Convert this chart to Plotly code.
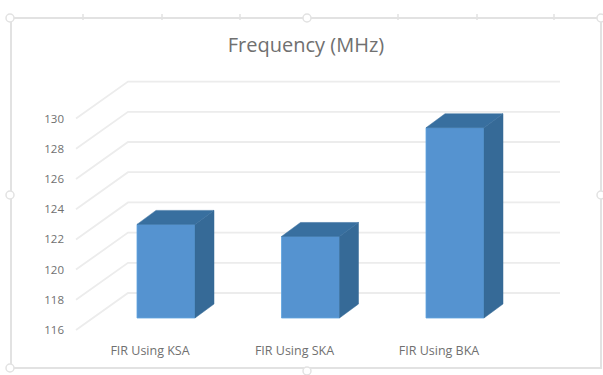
import plotly.graph_objects as go

categories = ["FIR Using KSA", "FIR Using SKA", "FIR Using BKA"]
frequency = [122.2, 121.4, 128.6]
tick_values = [116, 118, 120, 122, 124, 126, 128, 130]

W, H = 603, 375
PX_X = 144.5   # pixels per category
PX_Y = 15.1    # pixels per MHz
X0_PX, Y0_PX = 150, 330   # where category 0 / value 116 sit on the front plane
L_PX, B_PX, T_PX = 68, 336, 62

BAR_W = 58 / PX_X
BAR_DX, BAR_DY = 16 / PX_X, 12 / PX_Y          # front of bars relative to front plane
DEPTH_X, DEPTH_Y = 19 / PX_X, 14 / PX_Y        # depth of one bar
WALL_DX, WALL_DY = 52 / PX_X, 37 / PX_Y        # back wall relative to front plane
GRID_X0 = (76 - X0_PX) / PX_X
GRID_X1 = (560 - X0_PX) / PX_X

FRONT, SIDE, TOP = "#5593d0", "#366a97", "#386f9f"
GRID = "#ececec"
FRAME = "#e2e2e2"
TEXT = "#707070"

fig = go.Figure()

base = tick_values[0] + BAR_DY
for i, v in enumerate(frequency):
    c = i + BAR_DX
    l, r = c - BAR_W / 2, c + BAR_W / 2
    top = v + BAR_DY
    fig.add_trace(go.Scatter(
        x=[r, r + DEPTH_X, r + DEPTH_X, r, r],
        y=[base, base + DEPTH_Y, top + DEPTH_Y, top, base],
        mode="lines", fill="toself", fillcolor=SIDE, line=dict(color=SIDE, width=0.5),
        hoverinfo="skip", showlegend=False))
    fig.add_trace(go.Scatter(
        x=[l, l + DEPTH_X, r + DEPTH_X, r, l],
        y=[top, top + DEPTH_Y, top + DEPTH_Y, top, top],
        mode="lines", fill="toself", fillcolor=TOP, line=dict(color=TOP, width=0.5),
        hoverinfo="skip", showlegend=False))

fig.add_trace(go.Bar(
    x=[i + BAR_DX for i in range(len(categories))],
    y=[v - tick_values[0] for v in frequency],
    base=base, width=BAR_W,
    marker=dict(color=FRONT, line=dict(color="#5fa3e0", width=0.8)),
    showlegend=False))

def circle(cx, cy, r=4):
    return dict(type="circle", xref="paper", yref="paper", layer="above",
                x0=(cx - r) / W, x1=(cx + r) / W,
                y0=1 - (cy + r) / H, y1=1 - (cy - r) / H,
                fillcolor="white", line=dict(color=FRAME, width=1.5))

def notch(x0, y0, x1, y1):
    return dict(type="line", xref="paper", yref="paper", layer="below",
                x0=x0 / W, x1=x1 / W, y0=1 - y0 / H, y1=1 - y1 / H,
                line=dict(color=FRAME, width=1.5))

shapes = [dict(type="rect", xref="paper", yref="paper", layer="below",
               x0=11 / W, x1=601 / W, y0=1 - 368 / H, y1=1 - 18 / H,
               line=dict(color=FRAME, width=2), fillcolor="white")]
shapes += [notch(x, 14, x, 20) for x in (83, 162, 240, 398, 477, 554)]
# gridlines: floor-wall slant, then along the back wall
for v in tick_values:
    yb = v + WALL_DY
    shapes.append(dict(
        type="path", xref="x", yref="y", layer="below",
        path=f"M {GRID_X0} {v} L {GRID_X0 + WALL_DX} {yb} L {GRID_X1} {yb}",
        line=dict(color=GRID, width=1.8)))
shapes += [circle(*p) for p in [(10, 18), (307, 18), (601, 18), (10, 195), (601, 195), (10, 368), (307, 371)]]

fig.update_layout(
    width=W, height=H, autosize=False,
    margin=dict(l=0, r=0, t=0, b=0),
    paper_bgcolor="white", plot_bgcolor="rgba(0,0,0,0)",
    font=dict(family="Open Sans, sans-serif", color=TEXT),
    title=dict(text="Frequency (MHz)", x=306 / W, xanchor="center", y=1 - 45 / H,
               yanchor="middle", font=dict(size=20, color=TEXT)),
    shapes=shapes,
    xaxis=dict(domain=[L_PX / W, 1], range=[(L_PX - X0_PX) / PX_X, (W - X0_PX) / PX_X],
               tickmode="array", tickvals=list(range(len(categories))), ticktext=categories,
               tickfont=dict(size=12.5, color=TEXT), showgrid=False, zeroline=False,
               showline=False, ticks="", ticklabelstandoff=5),
    yaxis=dict(domain=[1 - B_PX / H, 1 - T_PX / H],
               range=[tick_values[0] - (B_PX - Y0_PX) / PX_Y, tick_values[0] + (Y0_PX - T_PX) / PX_Y],
               tickmode="array", tickvals=tick_values,
               tickfont=dict(size=11.5, color=TEXT), showgrid=False, zeroline=False,
               showline=False, ticks="", ticklabelstandoff=3),
)

fig.write_html("out.html", post_script="document.body.style.margin='0';",
               config=dict(displayModeBar=False))
